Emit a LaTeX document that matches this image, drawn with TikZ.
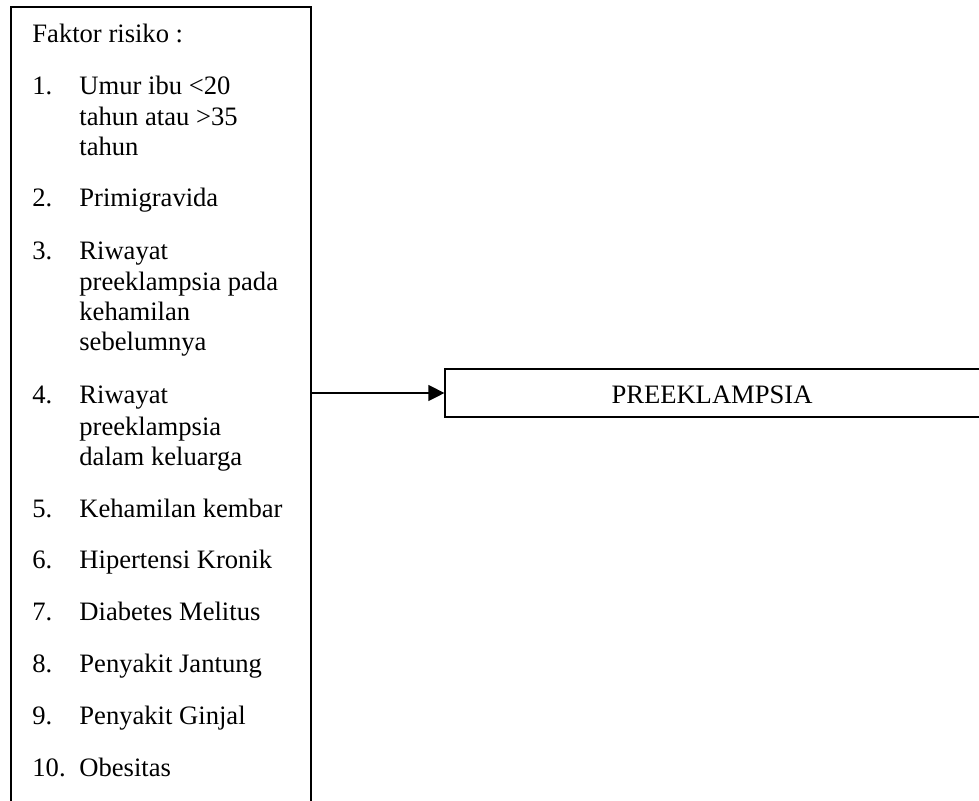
\documentclass[tikz,border=0pt]{standalone}
\usepackage{fontspec}
\setmainfont{Liberation Serif}
\usetikzlibrary{arrows.meta,positioning,calc}

\begin{document}
\begin{tikzpicture}[
  x=0.5pt, y=-0.5pt,
  box/.style={draw, line width=0.6pt, inner sep=0pt},
  txt/.style={anchor=base west, inner sep=0pt, font=\fontsize{13.3}{16}\selectfont},
  arr/.style={-{Triangle[length=8pt, width=8pt]}, line width=0.6pt}
]
\clip (0,0) rectangle (979,800);

\node[box, minimum width=150pt, minimum height=402pt] (faktor) at (161,409) {};
\node[box, minimum width=267.5pt, minimum height=24pt] (preek) at (712.5,393) {};
\node[txt, anchor=base] (preektxt) at (712,403) {PREEKLAMPSIA};

\node[txt] (judul) at (32,42) {Faktor risiko :};

% nomor
\foreach \n/\y in {1/94, 2/206, 3/259, 4/403, 5/517, 6/568, 7/620, 8/672, 9/724, 10/776}
  \node[txt] (no\n) at (32,\y) {\n.};

% isi
\foreach \i/\y/\t in {a/94/Umur ibu <20, b/125/tahun atau >35, c/155/tahun,
    d/206/Primigravida,
    e/259/Riwayat, f/290/preeklampsia pada, g/320/kehamilan, h/350/sebelumnya,
    i/403/Riwayat, j/435/preeklampsia, k/465/dalam keluarga,
    l/517/Kehamilan kembar, m/568/Hipertensi Kronik, n/620/Diabetes Melitus,
    o/672/Penyakit Jantung, p/724/Penyakit Ginjal, q/776/Obesitas}
  \node[txt] (isi\i) at (79,\y) {\t};

\draw[arr] (faktor.east |- preek.west) -- (preek.west);

\end{tikzpicture}
\end{document}
